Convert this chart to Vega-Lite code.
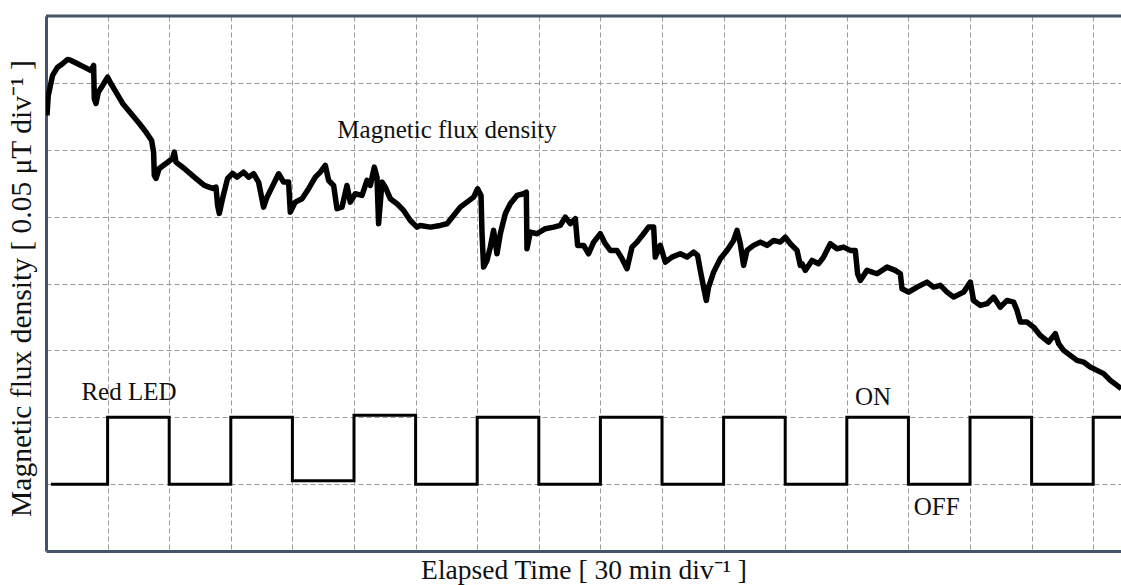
{
  "$schema": "https://vega.github.io/schema/vega-lite/v6.json",
  "width": 1075,
  "height": 535,
  "autosize": {"type": "none"},
  "padding": {"left": 46, "top": 16, "right": 0, "bottom": 34},
  "background": "white",
  "config": {"view": {"stroke": null}},
  "datasets": {
    "led": [
      {"t": 0.08, "v": 1}, {"t": 1, "v": 2}, {"t": 2, "v": 1}, {"t": 3, "v": 2},
      {"t": 4, "v": 1.05}, {"t": 5, "v": 2.03}, {"t": 6, "v": 1}, {"t": 7, "v": 2},
      {"t": 8, "v": 1}, {"t": 9, "v": 2}, {"t": 10, "v": 1}, {"t": 11, "v": 2},
      {"t": 12, "v": 1}, {"t": 13, "v": 2}, {"t": 14, "v": 1}, {"t": 15, "v": 2},
      {"t": 16, "v": 1}, {"t": 17, "v": 2}, {"t": 17.46, "v": 2}
    ],
    "flux": [
      {"t": 0.016, "v": 6.513}, {"t": 0.037, "v": 6.812}, {"t": 0.107, "v": 7.111}, {"t": 0.188, "v": 7.235},
      {"t": 0.269, "v": 7.286}, {"t": 0.351, "v": 7.35}, {"t": 0.406, "v": 7.335}, {"t": 0.513, "v": 7.286},
      {"t": 0.622, "v": 7.235}, {"t": 0.731, "v": 7.185}, {"t": 0.773, "v": 7.26}, {"t": 0.784, "v": 6.762},
      {"t": 0.812, "v": 6.692}, {"t": 0.849, "v": 6.861}, {"t": 0.919, "v": 6.961}, {"t": 1.0, "v": 7.085},
      {"t": 1.055, "v": 6.987}, {"t": 1.136, "v": 6.861}, {"t": 1.244, "v": 6.692}, {"t": 1.38, "v": 6.543},
      {"t": 1.515, "v": 6.393}, {"t": 1.623, "v": 6.263}, {"t": 1.714, "v": 6.139}, {"t": 1.747, "v": 5.964},
      {"t": 1.758, "v": 5.616}, {"t": 1.786, "v": 5.571}, {"t": 1.839, "v": 5.72}, {"t": 1.948, "v": 5.795},
      {"t": 2.055, "v": 5.87}, {"t": 2.083, "v": 5.964}, {"t": 2.11, "v": 5.815}, {"t": 2.245, "v": 5.72},
      {"t": 2.407, "v": 5.59}, {"t": 2.57, "v": 5.466}, {"t": 2.705, "v": 5.422}, {"t": 2.76, "v": 5.441},
      {"t": 2.786, "v": 5.167}, {"t": 2.813, "v": 5.048}, {"t": 2.867, "v": 5.272}, {"t": 2.948, "v": 5.571},
      {"t": 3.029, "v": 5.646}, {"t": 3.101, "v": 5.59}, {"t": 3.208, "v": 5.665}, {"t": 3.289, "v": 5.59},
      {"t": 3.37, "v": 5.641}, {"t": 3.451, "v": 5.516}, {"t": 3.532, "v": 5.142}, {"t": 3.588, "v": 5.291},
      {"t": 3.669, "v": 5.441}, {"t": 3.776, "v": 5.641}, {"t": 3.857, "v": 5.516}, {"t": 3.938, "v": 5.516},
      {"t": 3.966, "v": 5.067}, {"t": 4.047, "v": 5.217}, {"t": 4.156, "v": 5.268}, {"t": 4.263, "v": 5.417},
      {"t": 4.372, "v": 5.59}, {"t": 4.453, "v": 5.665}, {"t": 4.534, "v": 5.765}, {"t": 4.588, "v": 5.541},
      {"t": 4.669, "v": 5.466}, {"t": 4.724, "v": 5.118}, {"t": 4.805, "v": 5.142}, {"t": 4.886, "v": 5.466},
      {"t": 4.94, "v": 5.217}, {"t": 5.021, "v": 5.342}, {"t": 5.13, "v": 5.317}, {"t": 5.211, "v": 5.541},
      {"t": 5.265, "v": 5.466}, {"t": 5.33, "v": 5.74}, {"t": 5.373, "v": 5.59}, {"t": 5.399, "v": 4.894},
      {"t": 5.455, "v": 5.516}, {"t": 5.508, "v": 5.441}, {"t": 5.589, "v": 5.268}, {"t": 5.698, "v": 5.193},
      {"t": 5.805, "v": 5.093}, {"t": 5.914, "v": 4.943}, {"t": 6.023, "v": 4.843}, {"t": 6.076, "v": 4.868},
      {"t": 6.239, "v": 4.843}, {"t": 6.401, "v": 4.868}, {"t": 6.51, "v": 4.894}, {"t": 6.617, "v": 5.018},
      {"t": 6.725, "v": 5.142}, {"t": 6.834, "v": 5.217}, {"t": 6.942, "v": 5.291}, {"t": 7.006, "v": 5.417},
      {"t": 7.062, "v": 5.317}, {"t": 7.078, "v": 4.744}, {"t": 7.104, "v": 4.245}, {"t": 7.159, "v": 4.345},
      {"t": 7.213, "v": 4.544}, {"t": 7.266, "v": 4.794}, {"t": 7.321, "v": 4.445}, {"t": 7.375, "v": 4.744},
      {"t": 7.456, "v": 5.043}, {"t": 7.537, "v": 5.193}, {"t": 7.646, "v": 5.317}, {"t": 7.753, "v": 5.342},
      {"t": 7.797, "v": 5.366}, {"t": 7.808, "v": 4.52}, {"t": 7.862, "v": 4.768}, {"t": 7.971, "v": 4.744},
      {"t": 8.106, "v": 4.819}, {"t": 8.24, "v": 4.843}, {"t": 8.349, "v": 4.868}, {"t": 8.43, "v": 4.993},
      {"t": 8.511, "v": 4.894}, {"t": 8.593, "v": 4.969}, {"t": 8.63, "v": 4.57}, {"t": 8.727, "v": 4.57},
      {"t": 8.808, "v": 4.445}, {"t": 8.89, "v": 4.619}, {"t": 8.998, "v": 4.744}, {"t": 9.079, "v": 4.595},
      {"t": 9.16, "v": 4.495}, {"t": 9.269, "v": 4.495}, {"t": 9.351, "v": 4.371}, {"t": 9.432, "v": 4.221},
      {"t": 9.513, "v": 4.544}, {"t": 9.594, "v": 4.619}, {"t": 9.701, "v": 4.744}, {"t": 9.782, "v": 4.843},
      {"t": 9.864, "v": 4.843}, {"t": 9.891, "v": 4.395}, {"t": 9.972, "v": 4.57}, {"t": 10.054, "v": 4.32},
      {"t": 10.162, "v": 4.395}, {"t": 10.297, "v": 4.445}, {"t": 10.406, "v": 4.395}, {"t": 10.513, "v": 4.469},
      {"t": 10.578, "v": 4.42}, {"t": 10.622, "v": 4.196}, {"t": 10.675, "v": 3.946}, {"t": 10.719, "v": 3.747},
      {"t": 10.756, "v": 3.946}, {"t": 10.838, "v": 4.17}, {"t": 10.946, "v": 4.371}, {"t": 11.055, "v": 4.495},
      {"t": 11.162, "v": 4.644}, {"t": 11.218, "v": 4.794}, {"t": 11.271, "v": 4.595}, {"t": 11.325, "v": 4.271},
      {"t": 11.38, "v": 4.495}, {"t": 11.487, "v": 4.57}, {"t": 11.596, "v": 4.619}, {"t": 11.705, "v": 4.57},
      {"t": 11.812, "v": 4.644}, {"t": 11.92, "v": 4.619}, {"t": 12.001, "v": 4.694}, {"t": 12.083, "v": 4.595},
      {"t": 12.192, "v": 4.495}, {"t": 12.245, "v": 4.271}, {"t": 12.273, "v": 4.296}, {"t": 12.326, "v": 4.196},
      {"t": 12.435, "v": 4.345}, {"t": 12.542, "v": 4.296}, {"t": 12.623, "v": 4.395}, {"t": 12.732, "v": 4.595},
      {"t": 12.841, "v": 4.52}, {"t": 12.948, "v": 4.544}, {"t": 13.057, "v": 4.495}, {"t": 13.138, "v": 4.495},
      {"t": 13.175, "v": 4.146}, {"t": 13.219, "v": 4.046}, {"t": 13.328, "v": 4.196}, {"t": 13.49, "v": 4.146},
      {"t": 13.653, "v": 4.245}, {"t": 13.787, "v": 4.196}, {"t": 13.869, "v": 4.146}, {"t": 13.896, "v": 3.922},
      {"t": 14.003, "v": 3.871}, {"t": 14.14, "v": 3.946}, {"t": 14.302, "v": 4.021}, {"t": 14.409, "v": 3.946},
      {"t": 14.518, "v": 3.972}, {"t": 14.627, "v": 3.871}, {"t": 14.734, "v": 3.797}, {"t": 14.896, "v": 3.871},
      {"t": 15.005, "v": 4.021}, {"t": 15.058, "v": 3.747}, {"t": 15.167, "v": 3.673}, {"t": 15.276, "v": 3.698},
      {"t": 15.383, "v": 3.797}, {"t": 15.492, "v": 3.647}, {"t": 15.601, "v": 3.747}, {"t": 15.708, "v": 3.722},
      {"t": 15.763, "v": 3.598}, {"t": 15.817, "v": 3.423}, {"t": 15.925, "v": 3.423}, {"t": 16.032, "v": 3.348},
      {"t": 16.141, "v": 3.224}, {"t": 16.276, "v": 3.124}, {"t": 16.385, "v": 3.25}, {"t": 16.438, "v": 3.1},
      {"t": 16.519, "v": 3.0}, {"t": 16.628, "v": 2.925}, {"t": 16.737, "v": 2.851}, {"t": 16.844, "v": 2.825},
      {"t": 16.953, "v": 2.75}, {"t": 17.062, "v": 2.701}, {"t": 17.169, "v": 2.652}, {"t": 17.278, "v": 2.552},
      {"t": 17.386, "v": 2.477}, {"t": 17.456, "v": 2.427}
    ],
    "one": [{"k": 1}]
  },
  "layer": [
    {
      "data": {"name": "led"},
      "mark": {"type": "line", "interpolate": "step-after", "color": "black", "strokeWidth": 3, "clip": true},
      "encoding": {
        "x": {
          "field": "t", "type": "quantitative",
          "scale": {"domain": [0, 17.451], "nice": false, "zero": false},
          "axis": {
            "title": "Elapsed Time [ 30 min div⁻¹ ]",
            "values": [1, 2, 3, 4, 5, 6, 7, 8, 9, 10, 11, 12, 13, 14, 15, 16, 17],
            "labels": false, "ticks": false,
            "grid": true, "gridDash": [5, 3], "gridColor": "#9a9a9a", "gridWidth": 1,
            "domain": true, "domainColor": "#44546A", "domainWidth": 3,
            "titleFont": "Liberation Serif", "titleFontSize": 27.5, "titleFontWeight": "normal",
            "titleColor": "#111111", "titlePadding": 5
          }
        },
        "y": {
          "field": "v", "type": "quantitative",
          "scale": {"domain": [0, 8], "nice": false, "zero": false},
          "axis": {
            "title": "Magnetic flux density [ 0.05 μT div⁻¹ ]",
            "values": [1, 2, 3, 4, 5, 6, 7],
            "labels": false, "ticks": false,
            "grid": true, "gridDash": [5, 3], "gridColor": "#9a9a9a", "gridWidth": 1,
            "domain": true, "domainColor": "#44546A", "domainWidth": 3,
            "titleFont": "Liberation Serif", "titleFontSize": 29.5, "titleFontWeight": "normal",
            "titleColor": "#111111", "titlePadding": 10, "titleY": 272
          }
        }
      }
    },
    {
      "data": {"name": "flux"},
      "mark": {"type": "line", "color": "black", "strokeWidth": 5.5, "strokeJoin": "round", "clip": true},
      "encoding": {
        "x": {"field": "t", "type": "quantitative"},
        "y": {"field": "v", "type": "quantitative"}
      }
    },
    {
      "data": {"name": "one"},
      "mark": {"type": "rule", "color": "#44546A", "strokeWidth": 3},
      "encoding": {"y": {"datum": 8, "type": "quantitative"}}
    },
    {
      "data": {"name": "one"},
      "mark": {"type": "text", "font": "Liberation Serif", "fontSize": 25, "color": "#111111", "align": "center", "baseline": "alphabetic", "text": "Magnetic flux density"},
      "encoding": {"x": {"datum": 6.51, "type": "quantitative"}, "y": {"datum": 6.18, "type": "quantitative"}}
    },
    {
      "data": {"name": "one"},
      "mark": {"type": "text", "font": "Liberation Serif", "fontSize": 25, "color": "#111111", "align": "center", "baseline": "alphabetic", "text": "Red LED"},
      "encoding": {"x": {"datum": 1.347, "type": "quantitative"}, "y": {"datum": 2.253, "type": "quantitative"}}
    },
    {
      "data": {"name": "one"},
      "mark": {"type": "text", "font": "Liberation Serif", "fontSize": 25, "color": "#111111", "align": "center", "baseline": "alphabetic", "text": "ON"},
      "encoding": {"x": {"datum": 13.425, "type": "quantitative"}, "y": {"datum": 2.179, "type": "quantitative"}}
    },
    {
      "data": {"name": "one"},
      "mark": {"type": "text", "font": "Liberation Serif", "fontSize": 25, "color": "#111111", "align": "center", "baseline": "alphabetic", "text": "OFF"},
      "encoding": {"x": {"datum": 14.46, "type": "quantitative"}, "y": {"datum": 0.544, "type": "quantitative"}}
    }
  ]
}
